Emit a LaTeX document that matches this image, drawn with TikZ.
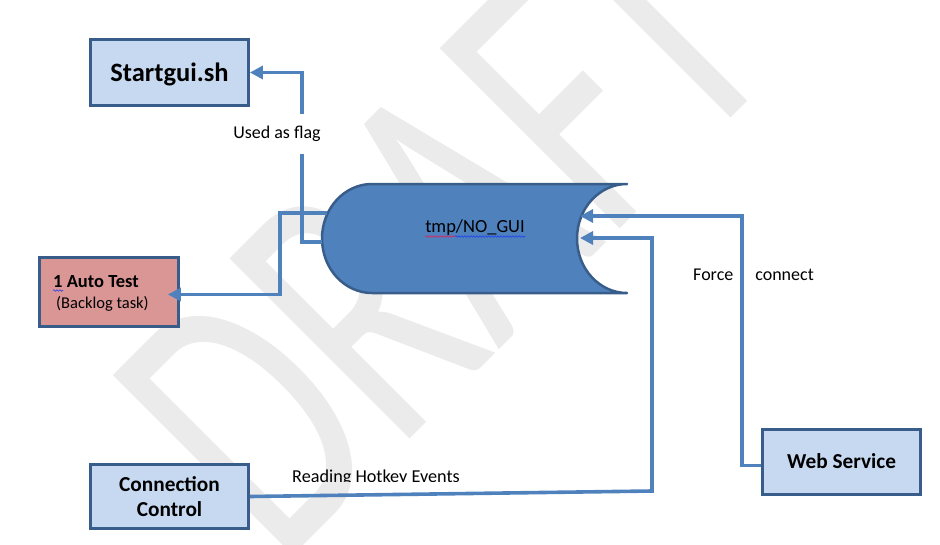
\documentclass[tikz,border=0pt]{standalone}
\usepackage{fontspec}
\setmainfont{Carlito}
\usetikzlibrary{arrows.meta,decorations.pathmorphing}
\definecolor{lineblue}{HTML}{4F81BD}
\definecolor{edgeblue}{HTML}{385D8A}
\definecolor{boxblue}{HTML}{C6D9F1}
\definecolor{boxpink}{HTML}{D99694}
\definecolor{wmgray}{HTML}{EBEBEB}
\definecolor{spellred}{HTML}{E0205A}
\definecolor{spellblue}{HTML}{2040F0}
\begin{document}
\begin{tikzpicture}[x=1pt,y=-1pt,
  box/.style={draw=edgeblue, line width=2.8pt, fill=boxblue, inner sep=0pt},
  conn/.style={draw=lineblue, line width=3.6pt},
  tip/.style={-{Triangle[length=13pt,width=13pt]}},
  lbl/.style={inner sep=0pt, font=\fontsize{18}{22}\selectfont},
  squig/.style={decorate, decoration={snake, amplitude=0.8pt, segment length=3pt}, line width=0.6pt}]
\useasboundingbox (0,0) rectangle (940,544);
% watermark
\begin{scope}
\clip (0,0) rectangle (940,544);
\node[text=wmgray, anchor=base, rotate=45, xscale=0.67, inner sep=0pt, font=\fontsize{397}{397}\selectfont] (wm) at (533,316) {DRAFT};
\end{scope}
% cylinder (tmp/NO_GUI)
\path[fill=lineblue, draw=edgeblue, line width=2.5pt, line join=round]
  (627,184) -- (372,184) arc[start angle=270, end angle=90, x radius=50, y radius=54.5]
  -- (627,293) arc[start angle=90, end angle=270, x radius=50, y radius=54.5] -- cycle;
\node[lbl, anchor=base, font=\fontsize{18.5}{22}\selectfont] (cyl) at (475,232) {tmp/NO\_GUI};
\draw[squig, spellred] (425,236.5) -- (455,236.5);
\draw[squig, spellblue] (455,236.5) -- (525,236.5);
\coordinate (cylA) at (322,242);
\coordinate (cylB) at (327,213);
\coordinate (cylC) at (580,216);
\coordinate (cylD) at (580,238);
% boxes
\node[box, minimum width=158, minimum height=66, text height=17pt, text depth=0pt, font=\fontsize{26.5}{30}\selectfont\bfseries] (sg) at (169.5,72.5) {Startgui.sh};
\node[box, fill=boxpink, minimum width=139, minimum height=69] (at) at (109,292) {};
\node[lbl, anchor=base west, font=\fontsize{18.5}{22}\selectfont\bfseries] (at1) at (53,287) {1 Auto Test};
\node[lbl, anchor=base west, font=\fontsize{16.5}{20}\selectfont] (at2) at (56,308) {(Backlog task)};
\draw[squig, spellblue] (53,290.5) -- (63,290.5);
\node[box, minimum width=158, minimum height=64, align=center, font=\fontsize{21.3}{25}\selectfont\bfseries] (cc) at (169.5,496.5) {Connection\\Control};
\node[box, minimum width=158, minimum height=65, text height=13.7pt, text depth=0pt, font=\fontsize{21.3}{25}\selectfont\bfseries] (ws) at (841.5,462) {Web Service};
% connectors
\draw[conn, tip] (cylA) -- ++(-20,0) |- (sg.east);
\node[lbl, fill=white, anchor=base, text height=12.6pt, text depth=4.5pt, inner ysep=11pt, inner xsep=4pt] (flag) at (277,138) {Used as flag};
\draw[conn, tip, shorten >=-12pt] (cylB) -- ++(-47,0) |- ([yshift=-2.5pt]at.east);
\draw[conn, tip] ([yshift=-3.5pt]ws.west) -- ++(-19,0) |- (cylC);
\coordinate (ccbend) at (652,491);
\draw[conn, tip] (cc.east) -- (ccbend) |- (cylD);
\node[lbl, anchor=base] (force) at (753.5,280) {Force\hspace{22pt}connect};
\begin{scope}
\clip (280,462) rectangle (480,481.8);
\node[lbl, anchor=base west, font=\fontsize{18.2}{22}\selectfont] (hotkey) at (292,482.7) {Reading Hotkey Events};
\end{scope}
\end{tikzpicture}
\end{document}
